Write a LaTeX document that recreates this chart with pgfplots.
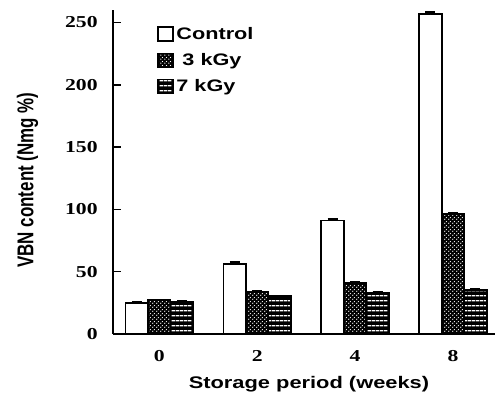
\documentclass[border=0pt]{standalone}
\usepackage{fontspec}
\setmainfont{Liberation Sans}
\newfontfamily\tickfont[FakeStretch=1.3]{Liberation Serif}
\newfontfamily\labfont[FakeStretch=1.3]{Liberation Sans}
\usepackage{graphicx}
\usepackage{pgfplots}
\pgfplotsset{compat=1.18}
\usetikzlibrary{patterns}

\pgfdeclarepatternformonly{bigdots}{\pgfpointorigin}{\pgfpoint{3pt}{3pt}}{\pgfpoint{3pt}{3pt}}{%
  \pgfpathcircle{\pgfpoint{0.75pt}{0.75pt}}{0.6pt}%
  \pgfpathcircle{\pgfpoint{2.25pt}{2.25pt}}{0.6pt}%
  \pgfusepath{fill}}
\pgfdeclarepatternformonly{hlines}{\pgfpoint{0pt}{0pt}}{\pgfpoint{3pt}{3.6pt}}{\pgfpoint{3pt}{3.6pt}}{%
  \pgfpathrectangle{\pgfpoint{-0.1pt}{1.3pt}}{\pgfpoint{3.2pt}{0.9pt}}%
  \pgfusepath{fill}}

\pgfplotstableread{
x y e
0 25 0.5
1 56 2
2 91 1.5
3 256.5 2
}\control
\pgfplotstableread{
x y e
0 27 0.5
1 33.5 0.8
2 41 1.2
3 96.5 1
}\threekgy
\pgfplotstableread{
x y e
0 26 0.5
1 30.5 0.5
2 33 0.5
3 35.5 0.6
}\sevenkgy

\begin{document}
\begin{tikzpicture}
\begin{axis}[
  scale only axis, width=286.5pt, height=243pt,
  ybar=0pt, bar width=16.9pt,
  xmin=-0.473, xmax=3.43, ymin=0, ymax=260,
  axis lines*=left,
  axis line style={line width=1.5pt, -},
  xtick={0,1,2,3}, xticklabels={0,2,4,8},
  xtick style={draw=none},
  ytick={0,50,100,150,200,250},
  ytick style={line width=1.2pt, black},
  tick align=inside, major tick length=6pt,
  /pgf/number format/assume math mode=true,
  tick label style={font=\tickfont\bfseries\fontsize{12.5}{13}\selectfont},
  yticklabel style={xshift=-8pt},
  xticklabel style={yshift=-9pt},
  xlabel={Storage period (weeks)},
  xlabel style={at={(axis description cs:0.513,-0.154)}, anchor=center, font=\labfont\bfseries\fontsize{12.6}{13}\selectfont},
  ylabel={\scalebox{1}[1.35]{VBN content (Nmg \%)}},
  ylabel style={at={(axis description cs:-0.224,0.475)}, anchor=center, font=\bfseries\fontsize{12.7}{13}\selectfont},
  legend style={at={(0.105,0.965)}, anchor=north west, draw=none, fill=none,
    font=\labfont\bfseries\fontsize{12.5}{12.5}\selectfont, row sep=5pt},
  legend cell align=left,
  sqleg/.style={legend image code/.code={\draw[##1, line width=1.3pt] (0pt,-5pt) rectangle (11pt,5pt);}},
  error bars/error mark options={line width=1.2pt, mark size=3.75pt, rotate=90},
]
\addplot[sqleg, draw=black, line width=1.3pt, fill=white,
  error bars/.cd, y dir=plus, y explicit] table[x=x, y=y, y error=e] {\control};
\addlegendentry{Control}
\addplot[sqleg, draw=black, line width=1.3pt, fill=black,
  postaction={pattern=bigdots, pattern color=white},
  error bars/.cd, y dir=plus, y explicit] table[x=x, y=y, y error=e] {\threekgy};
\addlegendentry{\ 3 kGy}
\addplot[sqleg, draw=black, line width=1.3pt, fill=black,
  postaction={pattern=hlines, pattern color=white},
  error bars/.cd, y dir=plus, y explicit] table[x=x, y=y, y error=e] {\sevenkgy};
\addlegendentry{7 kGy}
\end{axis}
\pgfresetboundingbox
\path (current axis.south west) ++(-84.75pt,-49.5pt) rectangle ++(372.75pt,300pt);
\end{tikzpicture}
\end{document}
